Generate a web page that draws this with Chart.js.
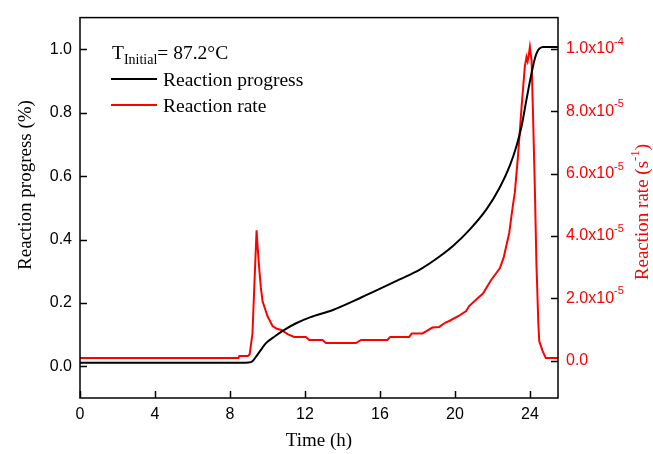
<!DOCTYPE html>
<html>
<head>
<meta charset="utf-8">
<script src="https://cdn.jsdelivr.net/npm/chart.js@4"></script>
<style>
  html, body { margin: 0; padding: 0; background: #fff; }
</style>
</head>
<body>
<canvas id="chart" width="653" height="454"></canvas>
<script>
// Reaction progress (left axis)
const progressTime = [0, 4, 8, 9.0, 9.2, 9.47, 9.7, 9.92, 10.4, 10.9, 11.5, 12.3, 13.46, 15, 17.05, 18.13, 19.2, 19.91, 20.8, 21.69, 22.4, 22.93, 23.29, 23.56, 23.82, 24.09, 24.27, 24.4, 24.53, 24.7, 25.5];
const progressValue = [0.011, 0.011, 0.011, 0.012, 0.016, 0.037, 0.056, 0.073, 0.095, 0.115, 0.135, 0.155, 0.177, 0.217, 0.274, 0.305, 0.347, 0.38, 0.432, 0.496, 0.565, 0.633, 0.696, 0.758, 0.842, 0.925, 0.972, 0.993, 1.003, 1.007, 1.007];

// Reaction rate (right axis), in units of 1e-5 s^-1
const rateTime = [0, 8.45, 8.5, 8.95, 9.05, 9.2, 9.3, 9.42, 9.47, 9.56, 9.65, 9.74, 10.0, 10.27, 10.5, 10.75, 11.07, 11.43, 12.05, 12.23, 12.94, 13.12, 14.72, 14.99, 16.4, 16.55, 17.56, 17.7, 18.27, 18.5, 18.8, 19.16, 19.5, 19.7, 20.2, 20.6, 20.76, 21.3, 21.5, 21.7, 21.95, 22.2, 22.4, 22.6, 22.75, 22.9, 23.0, 23.1, 23.2, 23.38, 23.56, 23.73, 23.82, 23.88, 23.93, 24.0, 24.09, 24.17, 24.27, 24.35, 24.38, 24.45, 24.5, 24.67, 24.85, 25.5];
const rateValue = [0.08, 0.08, 0.15, 0.15, 0.2, 0.86, 2.4, 4.18, 3.7, 2.96, 2.33, 1.9, 1.43, 1.11, 1.02, 0.98, 0.85, 0.76, 0.76, 0.66, 0.66, 0.56, 0.56, 0.66, 0.66, 0.76, 0.76, 0.87, 0.87, 0.95, 1.06, 1.08, 1.22, 1.27, 1.43, 1.59, 1.75, 2.05, 2.15, 2.35, 2.6, 2.8, 2.97, 3.3, 3.7, 4.1, 4.56, 5.0, 5.4, 6.67, 8.16, 9.43, 9.74, 9.6, 9.75, 10.06, 9.63, 7.84, 5.4, 3.07, 2.54, 1.2, 0.63, 0.32, 0.08, 0.08];
const RATE_UNIT = 1e-5;

// Tick labels
const timeTicks = [0, 4, 8, 12, 16, 20, 24];
const progressTicks = [0, 0.2, 0.4, 0.6, 0.8, 1.0];
const rateTicks = [0, 2e-5, 4e-5, 6e-5, 8e-5, 1e-4];

const SANS = "'Liberation Sans', Arial, sans-serif";
const SERIF = "'Liberation Serif', 'Times New Roman', serif";
const RED = '#ff0000';

// split a rate tick into "m.mx10" and its exponent
function rateLabel(v) {
  if (v === 0) return { base: '0.0', exp: '' };
  const exp = Math.floor(Math.log10(v) + 1e-9);
  const mant = (v / Math.pow(10, exp)).toFixed(1);
  return { base: mant + 'x10', exp: String(exp) };
}

// frame + inward tick marks
const frame = {
  id: 'frame',
  afterDatasetsDraw(chart) {
    const { ctx, chartArea: a, scales } = chart;
    ctx.save();
    ctx.strokeStyle = '#000';
    ctx.lineWidth = 1.5;
    ctx.strokeRect(a.left, a.top, a.right - a.left, a.bottom - a.top);
    ctx.beginPath();
    scales.x.ticks.forEach(t => {
      const px = Math.round(scales.x.getPixelForValue(t.value)) + 0.5;
      ctx.moveTo(px, a.bottom); ctx.lineTo(px, a.bottom - 7);
    });
    scales.y.ticks.forEach(t => {
      const py = Math.round(scales.y.getPixelForValue(t.value)) + 0.5;
      ctx.moveTo(a.left, py); ctx.lineTo(a.left + 7, py);
    });
    scales.y1.ticks.forEach(t => {
      const py = Math.round(scales.y1.getPixelForValue(t.value)) + 0.5;
      ctx.moveTo(a.right, py); ctx.lineTo(a.right - 7, py);
    });
    ctx.stroke();
    ctx.restore();
  }
};

// right tick labels, axis titles and legend
const labels = {
  id: 'labels',
  afterDraw(chart) {
    const { ctx, chartArea: a, scales } = chart;
    ctx.save();

    // right tick labels with superscript exponent
    ctx.fillStyle = RED;
    ctx.textAlign = 'left';
    ctx.textBaseline = 'middle';
    scales.y1.ticks.forEach(t => {
      const py = scales.y1.getPixelForValue(t.value);
      const lab = rateLabel(t.value);
      ctx.font = '16px ' + SANS;
      ctx.fillText(lab.base, a.right + 8, py);
      if (lab.exp) {
        const w = ctx.measureText(lab.base).width;
        ctx.font = '11px ' + SANS;
        ctx.fillText(lab.exp, a.right + 8 + w, py - 7);
      }
    });

    // left title
    ctx.save();
    ctx.translate(26, 185);
    ctx.rotate(-Math.PI / 2);
    ctx.font = '19px ' + SERIF;
    ctx.fillStyle = '#000';
    ctx.textAlign = 'center';
    ctx.textBaseline = 'middle';
    ctx.fillText('Reaction progress (%)', 0, 0);
    ctx.restore();

    // right title with superscript
    ctx.save();
    ctx.translate(643, 212);
    ctx.rotate(-Math.PI / 2);
    ctx.fillStyle = RED;
    ctx.textBaseline = 'middle';
    ctx.font = '19px ' + SERIF;
    const p1 = 'Reaction rate (s', p3 = ')';
    const w1 = ctx.measureText(p1).width, w3 = ctx.measureText(p3).width;
    ctx.font = '13px ' + SERIF;
    const p2 = '-1';
    const w2 = ctx.measureText(p2).width;
    let x = -(w1 + w2 + w3) / 2;
    ctx.textAlign = 'left';
    ctx.font = '19px ' + SERIF;
    ctx.fillText(p1, x, 0);
    x += w1;
    ctx.font = '13px ' + SERIF;
    ctx.fillText(p2, x, -7);
    x += w2;
    ctx.font = '19px ' + SERIF;
    ctx.fillText(p3, x, 0);
    ctx.restore();

    // bottom title
    ctx.font = '19px ' + SERIF;
    ctx.fillStyle = '#000';
    ctx.textAlign = 'center';
    ctx.textBaseline = 'alphabetic';
    ctx.fillText('Time (h)', (a.left + a.right) / 2, 446);

    // legend
    ctx.textAlign = 'left';
    ctx.font = '19.5px ' + SERIF;
    ctx.fillText('T', 112, 59);
    const wT = ctx.measureText('T').width;
    ctx.font = '14px ' + SERIF;
    ctx.fillText('Initial', 112 + wT, 64);
    const wI = ctx.measureText('Initial').width;
    ctx.font = '19.5px ' + SERIF;
    ctx.fillText('= 87.2\u00B0C', 112 + wT + wI, 59);

    ctx.lineWidth = 2;
    ctx.strokeStyle = '#000';
    ctx.beginPath(); ctx.moveTo(111, 79); ctx.lineTo(157, 79); ctx.stroke();
    ctx.fillText('Reaction progress', 163, 86);
    ctx.strokeStyle = RED;
    ctx.beginPath(); ctx.moveTo(111, 105); ctx.lineTo(157, 105); ctx.stroke();
    ctx.fillText('Reaction rate', 163, 112);

    ctx.restore();
  }
};

new Chart(document.getElementById('chart'), {
  type: 'line',
  data: {
    datasets: [
      {
        label: 'Reaction progress',
        data: progressTime.map((t, i) => ({ x: t, y: progressValue[i] })),
        borderColor: '#000',
        borderWidth: 2,
        pointRadius: 0,
        cubicInterpolationMode: 'monotone',
        yAxisID: 'y'
      },
      {
        label: 'Reaction rate',
        data: rateTime.map((t, i) => ({ x: t, y: rateValue[i] * RATE_UNIT })),
        borderColor: RED,
        borderWidth: 2,
        pointRadius: 0,
        tension: 0,
        yAxisID: 'y1'
      }
    ]
  },
  options: {
    responsive: false,
    animation: false,
    devicePixelRatio: 1,
    layout: { padding: { top: 14, left: 0, right: 0, bottom: 0 } },
    plugins: { legend: { display: false }, tooltip: { enabled: false } },
    scales: {
      x: {
        type: 'linear',
        min: 0,
        max: 25.5,
        afterBuildTicks: s => { s.ticks = timeTicks.map(v => ({ value: v })); },
        afterFit: s => { s.height = 56; },
        grid: { display: false, drawTicks: false },
        border: { display: false },
        ticks: { color: '#000', font: { family: SANS, size: 16 }, padding: 7, maxRotation: 0, autoSkip: false }
      },
      y: {
        position: 'left',
        min: -0.1,
        max: 1.1,
        afterBuildTicks: s => { s.ticks = progressTicks.map(v => ({ value: v })); },
        afterFit: s => { s.width = 80; },
        grid: { display: false, drawTicks: false },
        border: { display: false },
        ticks: { color: '#000', font: { family: SANS, size: 16 }, padding: 8, callback: v => v.toFixed(1) }
      },
      y1: {
        position: 'right',
        min: -1.2e-5,
        max: 1.1e-4,
        afterBuildTicks: s => { s.ticks = rateTicks.map(v => ({ value: v })); },
        afterFit: s => { s.width = 95; },
        grid: { display: false, drawTicks: false },
        border: { display: false },
        ticks: { display: false }
      }
    }
  },
  plugins: [frame, labels]
});
</script>
</body>
</html>
